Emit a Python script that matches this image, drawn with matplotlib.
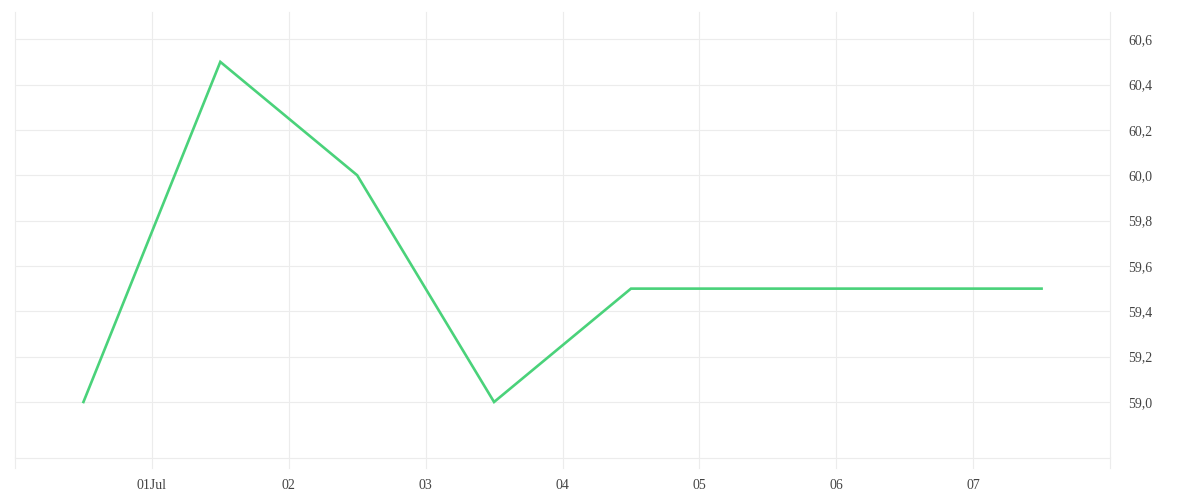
import matplotlib
matplotlib.use("Agg")
import matplotlib.pyplot as plt
from matplotlib.ticker import FuncFormatter
from datetime import datetime

plt.rcParams["font.family"] = ["Liberation Serif", "DejaVu Serif"]

# data
dates = ["2023-06-30 12:00", "2023-07-01 12:00", "2023-07-02 12:00", "2023-07-03 12:00",
         "2023-07-04 12:00", "2023-07-05 12:00", "2023-07-06 12:00", "2023-07-07 12:00"]
values = [59.0, 60.5, 60.0, 59.0, 59.5, 59.5, 59.5, 59.5]
tick_days = ["2023-07-01", "2023-07-02", "2023-07-03", "2023-07-04",
             "2023-07-05", "2023-07-06", "2023-07-07"]
tick_labels = ["01Jul", "02", "03", "04", "05", "06", "07"]
y_ticks = [59.0, 59.2, 59.4, 59.6, 59.8, 60.0, 60.2, 60.4, 60.6]

x = [datetime.strptime(d, "%Y-%m-%d %H:%M") for d in dates]
xt = [datetime.strptime(d, "%Y-%m-%d") for d in tick_days]

grid_c = "#ececec"
fig = plt.figure(figsize=(12, 5), dpi=100)
ax = fig.add_axes([15 / 1200, 1 - 458 / 500, 1095 / 1200, 446 / 500])

ax.plot(x, values, color="#4ad27a", linewidth=1.9, solid_joinstyle="miter")

ax.set_xlim(datetime(2023, 6, 30), datetime(2023, 7, 8))
ax.set_ylim(58.753, 60.72)

# grid: vertical lines at every day, incl. the edges
ax.set_xticks(xt)
ax.set_xticklabels(tick_labels)
for d in [datetime(2023, 6, 30)] + xt + [datetime(2023, 7, 8)]:
    ax.axvline(d, color=grid_c, linewidth=0.8, zorder=0, clip_on=False)
    ax.plot([d, d], [0, -10 / 446], transform=ax.get_xaxis_transform(),
            color=grid_c, linewidth=0.8, clip_on=False, zorder=0)
for v in y_ticks:
    ax.axhline(v, color=grid_c, linewidth=0.8, zorder=0)

ax.yaxis.tick_right()
ax.set_yticks(y_ticks)
ax.yaxis.set_major_formatter(FuncFormatter(lambda v, p: f"{v:.1f}".replace(".", ",")))

for s in ["top", "left", "right"]:
    ax.spines[s].set_visible(False)
ax.spines["bottom"].set_color(grid_c)
ax.spines["bottom"].set_linewidth(0.8)

ax.tick_params(axis="x", length=0, pad=15, labelsize=10, labelcolor="#444444")
ax.tick_params(axis="y", length=0, pad=13, labelsize=10, labelcolor="#444444")

fig.savefig("out.png", dpi=100)
